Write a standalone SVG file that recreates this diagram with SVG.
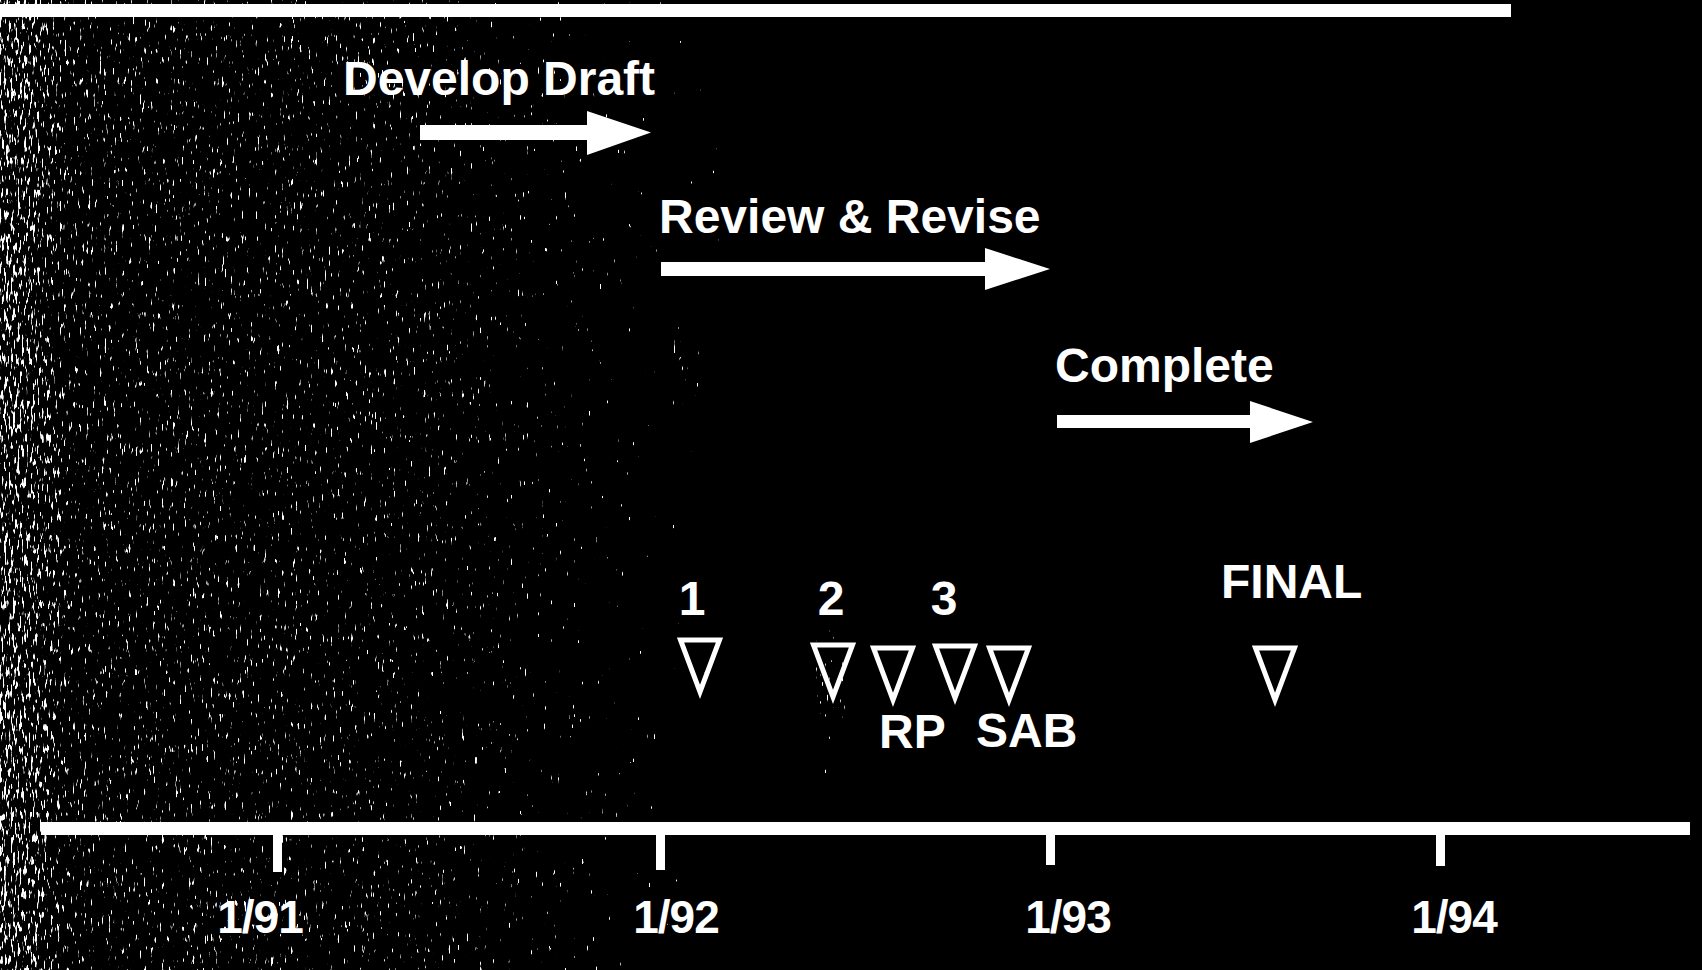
<svg xmlns="http://www.w3.org/2000/svg" width="1702" height="970" viewBox="0 0 1702 970">
  <style>
    .lbl { font-family: "Liberation Sans", Arial, sans-serif; font-weight: bold; font-size: 48px; fill: #ffffff; }
    .axl { font-family: "Liberation Sans", Arial, sans-serif; font-weight: bold; font-size: 46px; fill: #ffffff; text-anchor: middle; letter-spacing: -1px; }
    .num { text-anchor: middle; }
    .bar { fill: #ffffff; }
    .mark { fill: none; stroke: #ffffff; stroke-width: 5; stroke-linejoin: miter; stroke-miterlimit: 10; }
  </style>
  <defs>
    <!-- speckled photocopy grain, denser where the source gradient is brighter -->
    <filter id="grain" x="0" y="0" width="1" height="1" filterUnits="objectBoundingBox" color-interpolation-filters="sRGB">
      <feTurbulence type="fractalNoise" baseFrequency="0.45 0.09" numOctaves="2" seed="7" result="n"/>
      <feComposite in="n" in2="SourceGraphic" operator="arithmetic" k1="0" k2="1" k3="0.32" k4="0" result="sum"/>
      <feColorMatrix in="sum" type="matrix" values="0 0 0 0 1  0 0 0 0 1  0 0 0 0 1  22 0 0 0 -16.2"/>
    </filter>
    <linearGradient id="fade" x1="0" y1="0" x2="1" y2="0">
      <stop offset="0" stop-color="#ffffff"/>
      <stop offset="0.05" stop-color="#f4f4f4"/>
      <stop offset="0.1" stop-color="#d4d4d4"/>
      <stop offset="0.6" stop-color="#c8c8c8"/>
      <stop offset="0.85" stop-color="#a8a8a8"/>
      <stop offset="1" stop-color="#707070"/>
    </linearGradient>
    <linearGradient id="streak" x1="0" y1="0" x2="0" y2="1">
      <stop offset="0" stop-color="#808080"/>
      <stop offset="0.4" stop-color="#d0d0d0"/>
      <stop offset="1" stop-color="#808080"/>
    </linearGradient>
    <path id="tri" d="M-19.5,0 L19.5,0 L0,52 Z"/>
  </defs>

  <!-- background -->
  <rect x="0" y="0" width="1702" height="970" fill="#000000"/>
  <g id="texture">
    <rect x="0" y="0" width="720" height="970" fill="url(#fade)" filter="url(#grain)"/>
    <rect x="672" y="290" width="30" height="180" fill="url(#streak)" filter="url(#grain)"/>
    <rect x="815" y="600" width="30" height="200" fill="url(#streak)" filter="url(#grain)"/>
  </g>

  <!-- top rule -->
  <rect id="top-rule" x="0" y="4" width="1511" height="13" class="bar"/>

  <!-- phases -->
  <g id="phase-develop">
    <text class="lbl" x="343" y="95">Develop Draft</text>
  </g>
  <g id="phase-review">
    <text class="lbl" x="659" y="233">Review &amp; Revise</text>
  </g>
  <g id="phase-complete">
    <text class="lbl" x="1055" y="382">Complete</text>
  </g>

  <g id="connectors">
    <path class="bar" d="M420,125 L587,125 L587,111 L651,132.5 L587,155 L587,140 L420,140 Z"/>
    <path class="bar" d="M661,262 L985,262 L985,248 L1050,269 L985,290 L985,276 L661,276 Z"/>
    <path class="bar" d="M1057,415 L1250,415 L1250,401 L1313,422 L1250,443 L1250,428 L1057,428 Z"/>
  </g>

  <!-- review milestones -->
  <g id="milestone-1">
    <text class="lbl num" x="692" y="615">1</text>
    <use href="#tri" class="mark" transform="translate(700,640)"/>
  </g>
  <g id="milestone-2">
    <text class="lbl num" x="831" y="615">2</text>
    <use href="#tri" class="mark" transform="translate(833,645)"/>
  </g>
  <g id="milestone-rp">
    <use href="#tri" class="mark" transform="translate(893,648)"/>
    <text class="lbl" x="879" y="748">RP</text>
  </g>
  <g id="milestone-3">
    <text class="lbl num" x="944" y="615">3</text>
    <use href="#tri" class="mark" transform="translate(955,646)"/>
  </g>
  <g id="milestone-sab">
    <use href="#tri" class="mark" transform="translate(1009,648)"/>
    <text class="lbl" x="976" y="747">SAB</text>
  </g>
  <g id="milestone-final">
    <text class="lbl" x="1221" y="598">FINAL</text>
    <use href="#tri" class="mark" transform="translate(1275,648)"/>
  </g>

  <!-- time axis -->
  <g id="axis">
    <rect x="41" y="822" width="1649" height="13" class="bar"/>
    <rect x="273" y="830" width="9" height="42" class="bar"/>
    <rect x="656" y="830" width="9" height="40" class="bar"/>
    <rect x="1046" y="830" width="9" height="35" class="bar"/>
    <rect x="1436" y="830" width="9" height="36" class="bar"/>
    <text class="axl" x="260" y="933">1/91</text>
    <text class="axl" x="676" y="933">1/92</text>
    <text class="axl" x="1068" y="933">1/93</text>
    <text class="axl" x="1454" y="933">1/94</text>
  </g>
</svg>
